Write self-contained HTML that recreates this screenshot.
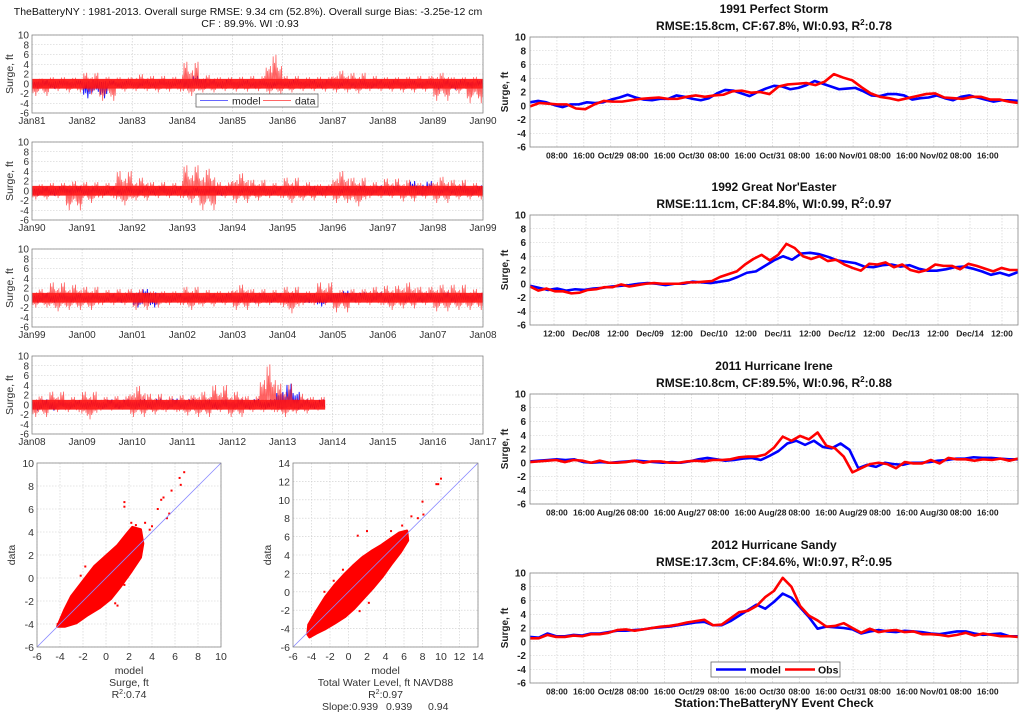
<!DOCTYPE html>
<html><head><meta charset="utf-8">
<style>
html,body{margin:0;padding:0;background:#fff;}
svg{display:block;font-family:"Liberation Sans",Arial,sans-serif;}
</style></head>
<body>
<svg id="fig" width="1024" height="716" viewBox="0 0 1024 716" xmlns="http://www.w3.org/2000/svg">
<rect width="1024" height="716" fill="#fff"/>
<text x="248" y="15" font-size="10.5" text-anchor="middle" fill="#111">TheBatteryNY : 1981-2013. Overall surge RMSE: 9.34 cm (52.8%). Overall surge Bias: -3.25e-12 cm</text>
<text x="250" y="27" font-size="10.5" text-anchor="middle" fill="#111">CF : 89.9%. WI :0.93</text>
<g id="layer"></g>
</svg>
<script>
// ---------- Left long-term time series (binned hi/lo envelopes, ft) ----------
const yearLabels1 = ["Jan81","Jan82","Jan83","Jan84","Jan85","Jan86","Jan87","Jan88","Jan89","Jan90"];
const yearLabels2 = ["Jan90","Jan91","Jan92","Jan93","Jan94","Jan95","Jan96","Jan97","Jan98","Jan99"];
const yearLabels3 = ["Jan99","Jan00","Jan01","Jan02","Jan03","Jan04","Jan05","Jan06","Jan07","Jan08"];
const yearLabels4 = ["Jan08","Jan09","Jan10","Jan11","Jan12","Jan13","Jan14","Jan15","Jan16","Jan17"];
const dataHi1 = [1.2,1.5,1.4,2.5,1.6,1.5,2.2,1.8,1.6,5.0,2.0,1.5,1.6,1.8,6.6,1.8,1.5,1.6,3.0,2.5,1.8,1.5,1.6,1.8,2.5,1.5,1.6];
const dataLo1 = [-2.5,-1.5,-1.8,-2.2,-3.5,-1.6,-1.5,-1.8,-1.6,-2.5,-1.8,-1.5,-1.6,-1.5,-2.2,-1.8,-1.5,-1.6,-1.8,-2.0,-1.5,-1.6,-1.8,-1.6,-3.5,-2.0,-4.0];
const modelHi1 = [0.8,0.7,0.9,0.7,0.8,0.8,1.8,0.9,0.8,0.7,0.9,0.8,0.9,0.8,0.8,0.7,0.9,0.8];
const modelLo1 = [-1.0,-0.7,-3.0,-0.8,-0.8,-0.7,-0.9,-0.8,-0.8,-0.8,-0.7,-0.9,-0.8,-0.9,-0.8,-0.8,-1.2,-0.9];
const dataHi2 = [1.5,1.8,2.2,2.0,1.8,4.5,3.0,2.0,1.8,5.8,5.0,2.0,4.0,2.5,1.8,3.0,2.0,1.5,4.5,3.0,2.0,2.8,2.5,1.8,3.2,2.5,1.8];
const dataLo2 = [-1.8,-1.5,-4.0,-2.5,-1.5,-3.0,-2.0,-1.5,-1.5,-2.5,-4.0,-1.5,-2.5,-2.0,-1.5,-2.5,-2.0,-1.5,-2.5,-3.2,-1.5,-1.5,-2.2,-1.6,-2.5,-1.8,-1.8];
const modelHi2 = [0.9,1.0,0.8,0.9,0.9,1.0,0.8,0.9,0.8,0.9,0.9,1.0,1.0,1.2,1.2,2.2,1.0,1.2];
const modelLo2 = [-1.0,-0.8,-0.9,-0.9,-0.8,-0.9,-0.9,-1.0,-0.8,-0.9,-0.8,-0.9,-0.8,-0.8,-0.8,-1.0,-0.8,-0.9];
const dataHi3 = [2.0,3.5,3.0,2.5,1.8,2.0,2.0,1.5,1.5,2.5,1.8,1.5,3.0,2.0,1.8,2.5,1.5,3.5,1.8,2.0,2.5,2.8,3.5,2.5,3.0,3.0,2.0];
const dataLo3 = [-2.0,-2.8,-2.5,-2.5,-1.5,-1.5,-2.5,-2.0,-1.5,-2.5,-1.8,-1.5,-2.5,-1.8,-1.5,-3.2,-1.5,-1.5,-3.0,-1.5,-1.5,-2.5,-2.2,-1.5,-2.8,-2.5,-2.5];
const modelHi3 = [1.0,0.9,0.8,0.9,2.0,0.9,0.8,0.9,1.0,1.0,1.0,0.9,1.6,1.2,1.0,1.0,1.2,1.0];
const modelLo3 = [-1.0,-0.9,-0.8,-1.0,-2.0,-0.9,-0.8,-0.9,-1.0,-1.0,-1.0,-1.8,-0.9,-0.8,-1.0,-0.9,-1.0,-0.9];
const dataHi4 = [2.0,3.0,1.8,3.0,1.8,2.0,4.3,2.5,2.0,2.2,3.0,4.5,3.0,2.0,9.2,4.8,2.5,1.8];
const dataLo4 = [-2.5,-1.5,-1.5,-3.0,-1.2,-1.0,-2.5,-2.0,-1.5,-2.2,-2.5,-1.5,-2.5,-1.5,-1.5,-2.5,-1.8,-1.2];
const modelHi4 = [1.2,1.0,1.0,1.2,1.3,1.4,1.3,1.2,1.2,1.3,4.8,1.2];
const modelLo4 = [-1.2,-0.8,-0.8,-0.8,-0.8,-0.8,-0.8,-0.9,-0.9,-0.8,-1.0,-0.8];
const yTicksLeft = [10,8,6,4,2,0,-2,-4,-6];

// ---------- Scatter plots ----------
const surgeCloudModel = [-4.2,-3.6,-3,-2,-1,0,1,1.8,2.3,3.0,3.2,3.0,2.2,1.2,0.4,-0.6,-1.6,-2.6,-3.6];
const surgeCloudData  = [-4.2,-2.8,-1.6,-0.3,1.0,1.9,2.8,3.8,4.4,4.2,3.0,1.8,0.6,-0.8,-1.8,-2.6,-3.2,-3.9,-4.2];
const surgeOutModel = [1.6,1.6,6.8,6.4,6.5,5.7,5.0,4.8,4.5,5.5,4.0,3.8,5.3,1.0,-3.6,-4.2,-2.6,-3.0,-1.8,-2.2,2.2,2.6,3.4,-3.2,0.8,1.6];
const surgeOutData  = [6.6,6.2,9.2,8.7,8.1,7.6,7.0,6.8,6.0,5.6,4.5,4.2,5.2,-2.4,-3.2,-4.0,-3.9,-3.6,1.0,0.2,4.8,4.6,4.8,-3.4,-2.2,-0.6];
const twlCloudModel = [-4.4,-4.3,-3.5,-2.5,-1.5,-0.5,0.5,1.5,2.5,3.5,4.5,5.5,6.3,6.4,5.6,4.6,3.6,2.6,1.6,0.6,-0.4,-1.5,-2.5,-3.5,-4.2];
const twlCloudData  = [-4.6,-3.6,-2.2,-0.6,0.7,1.8,2.8,3.7,4.4,5.0,5.7,6.4,6.6,5.6,4.3,3.0,1.6,0.4,-0.7,-1.8,-2.7,-3.4,-4.0,-4.5,-4.9];
const twlOutModel = [10,9.5,9.7,8,8.1,7.5,6.8,1,2,2.2,1.2,-2.6,-1.6,5.8,4.6,-0.6];
const twlOutData  = [12.3,11.7,11.7,9.8,8.4,8,8.2,6.1,6.6,-1.2,-2.1,0.0,1.2,7.2,6.6,2.4];
const surgeTicks = [-6,-4,-2,0,2,4,6,8,10];
const twlTicks = [-6,-4,-2,0,2,4,6,8,10,12,14];

// ---------- Right event panels (ft, evenly spaced over window) ----------
const evLabelsA = ["08:00","16:00","Oct/29","08:00","16:00","Oct/30","08:00","16:00","Oct/31","08:00","16:00","Nov/01","08:00","16:00","Nov/02","08:00","16:00"];
const evLabelsB = ["12:00","Dec/08","12:00","Dec/09","12:00","Dec/10","12:00","Dec/11","12:00","Dec/12","12:00","Dec/13","12:00","Dec/14","12:00"];
const evLabelsC = ["08:00","16:00","Aug/26","08:00","16:00","Aug/27","08:00","16:00","Aug/28","08:00","16:00","Aug/29","08:00","16:00","Aug/30","08:00","16:00"];
const evLabelsD = ["08:00","16:00","Oct/28","08:00","16:00","Oct/29","08:00","16:00","Oct/30","08:00","16:00","Oct/31","08:00","16:00","Nov/01","08:00","16:00"];
const model1991 = [0.5,0.7,0.5,0.1,-0.2,0.2,0.2,0.5,0.4,0.5,0.9,1.2,1.6,1.2,0.9,0.8,1.0,1.0,1.5,1.3,1.0,0.8,1.1,1.8,2.3,2.2,1.8,1.4,2.0,2.5,2.9,2.8,2.4,2.6,3.0,3.6,3.2,2.8,2.4,2.5,2.6,2.1,1.5,1.4,1.7,1.7,1.5,0.9,1.1,1.2,1.5,1.1,0.8,1.3,1.5,1.2,0.9,0.6,0.8,0.8,0.7];
const obs1991 = [-0.1,0.4,0.3,0.2,0.2,-0.4,-0.5,0.2,0.7,0.6,0.6,0.8,1.0,1.1,1.2,1.0,1.0,1.3,1.5,1.3,1.5,1.6,2.1,2.2,1.9,2.0,1.7,2.8,3.1,3.2,3.3,3.0,3.5,4.6,4.1,3.7,2.7,1.8,1.3,1.1,0.8,1.1,1.4,1.7,1.8,1.2,1.1,1.0,1.3,1.3,0.9,0.9,0.6,0.4];
const model1992 = [-0.3,-0.6,-0.9,-0.7,-1.0,-0.8,-0.9,-0.7,-0.6,-0.4,-0.3,-0.2,0.0,0.1,0.0,-0.2,0.0,0.0,0.3,0.2,0.1,0.3,0.5,1.0,1.6,1.8,2.6,3.4,4.0,3.5,4.4,4.5,4.3,3.9,3.4,3.2,3.0,2.5,2.4,2.7,2.8,2.5,2.7,2.2,1.9,1.9,2.1,2.4,2.5,2.2,1.8,1.3,1.6,1.2,1.7];
const obs1992 = [-0.4,-1.0,-0.7,-1.1,-1.1,-1.4,-1.3,-0.9,-0.8,-0.5,-0.5,-0.1,-0.4,-0.2,0.0,0.1,0.0,0.0,0.0,0.2,0.2,0.3,0.4,1.0,1.4,1.8,2.8,3.6,4.2,3.4,4.2,5.8,5.2,4.0,3.6,4.0,3.3,3.5,2.8,2.3,1.9,2.9,2.8,3.1,2.4,2.8,2.0,1.7,2.0,2.8,2.6,2.6,2.1,2.9,2.6,2.2,1.8,2.3,2.0,2.0];
const model2011 = [0.2,0.3,0.4,0.5,0.4,0.5,0.1,0.0,0.1,0.0,0.1,0.2,0.3,0.2,0.1,0.0,0.1,0.0,0.2,0.5,0.7,0.5,0.3,0.4,0.6,0.7,0.4,1.0,1.7,2.8,3.2,2.6,3.2,2.3,2.1,2.8,1.9,-0.8,-0.3,-0.6,0.0,-0.2,-0.3,0.0,0.0,0.1,0.3,0.4,0.6,0.6,0.8,0.7,0.7,0.6,0.5,0.5];
const obs2011 = [0.1,0.2,0.3,0.4,0.1,0.4,0.3,0.0,0.3,0.0,0.0,0.1,0.3,0.0,0.2,0.2,0.0,0.0,0.2,0.3,0.2,0.4,0.4,0.5,0.8,0.9,0.9,1.2,2.2,3.8,3.2,3.9,3.4,4.4,2.5,2.1,0.9,-1.4,-0.8,-0.2,0.0,-0.2,-0.8,0.1,-0.1,-0.1,0.4,-0.1,0.7,0.5,0.5,0.3,0.5,0.4,0.6,0.3,0.6];
const model2012 = [0.7,0.6,1.2,0.8,0.8,1.0,0.9,1.2,1.2,1.4,1.6,1.6,1.7,1.8,2.0,2.1,2.2,2.4,2.6,2.8,2.9,2.4,2.4,3.0,3.8,4.6,5.4,4.8,5.8,7.0,6.4,5.0,3.6,1.9,2.2,2.1,2.0,1.8,1.2,1.5,1.7,1.5,1.4,1.6,1.5,1.4,1.2,1.1,1.3,1.5,1.5,1.2,1.0,1.1,1.2,0.8,0.8];
const obs2012 = [0.5,0.5,1.0,0.7,0.7,0.9,0.8,1.1,1.1,1.3,1.7,1.8,1.6,1.8,2.0,2.2,2.3,2.5,2.8,3.0,3.2,2.4,2.5,3.4,4.3,4.5,5.2,6.5,7.4,9.3,8.0,5.2,3.8,3.1,2.2,2.3,2.7,2.0,1.3,1.9,1.4,1.6,1.7,1.4,1.5,1.1,1.1,1.0,0.8,1.0,1.3,0.9,1.2,1.0,0.8,0.8,0.7];
const yTicksRight = [10,8,6,4,2,0,-2,-4,-6];

const NS = "http://www.w3.org/2000/svg";
const layer = document.getElementById('layer');
function mk(tag, attrs, parent){ const e=document.createElementNS(NS,tag); for(const k in attrs) e.setAttribute(k,attrs[k]); (parent||layer).appendChild(e); return e; }
function lin(d0,d1,r0,r1){ return v => r0 + (v-d0)/(d1-d0)*(r1-r0); }
// render-only jitter pattern (fraction of bin envelope reached by each sub-stroke)
const JIT = [0.5,0.75,0.4,0.65,0.45,1.0,0.55,0.7,0.35,0.6,0.85,0.45,0.65,0.4,0.9,0.55];

// ----- left panels -----
function leftPanel(top, labels, hi, lo, mhi, mlo, dataYears, modelYears, idx){
  const x0=32,x1=483,bot=top+78;
  const g = mk('g',{});
  
  
  const xs = lin(0,9,x0,x1), ys = lin(-6,10,bot,top);
  yTicksLeft.forEach(t=>{
    mk('line',{x1:x0,x2:x1,y1:ys(t),y2:ys(t),stroke:'#c8c8c8','stroke-width':0.6,'stroke-dasharray':'1.5,1.5'},g);
    const tx = mk('text',{x:29,y:ys(t)+3.5,'font-size':10,'text-anchor':'end',fill:'#333'},g);
    tx.textContent = t;
    
    
  });
  labels.forEach((l,i)=>{
    mk('line',{x1:xs(i),x2:xs(i),y1:top,y2:bot,stroke:'#c8c8c8','stroke-width':0.6,'stroke-dasharray':'1.5,1.5'},g);
    const tx = mk('text',{x:xs(i),y:bot+11,'font-size':10,'text-anchor':'middle',fill:'#333'},g);
    tx.textContent = l;
    
    
  });
  function noisy(h,l,years,color,width,op,name,sub){
    const n=h.length, w=years/n;
    let zz=[], c=0;
    for(let i=0;i<n;i++){
      for(let k=0;k<sub;k++){
        const f=(k+0.5)/sub, j=JIT[(c++)%JIT.length];
        const v = (k%2===0) ? h[i]*j : l[i]*j;
        zz.push(xs((i+f)*w).toFixed(2)+','+ys(v).toFixed(2));
      }
    }
    const pl = mk('polyline',{points:zz.join(' '),fill:'none',stroke:color,'stroke-width':width,'stroke-opacity':op},g);
    
    
  }
  noisy(mhi,mlo,modelYears,'#0000ff',0.9,0.9,'model',24);
  const core = mk('rect',{x:x0,y:ys(1.0),width:xs(dataYears)-x0,height:ys(-1.0)-ys(1.0),fill:'#ff0000','fill-opacity':0.85},g);
  
  
  noisy(hi,lo,dataYears,'#ff2020',0.8,0.7,'data',24);
  mk('rect',{x:x0,y:top,width:x1-x0,height:bot-top,fill:'none',stroke:'#888','stroke-width':0.8},g);
  const yl = mk('text',{x:0,y:0,'font-size':10.5,'text-anchor':'middle',fill:'#333',transform:`translate(13,${(top+bot)/2}) rotate(-90)`},g);
  yl.textContent='Surge, ft';
  
  
}
leftPanel(35, yearLabels1, dataHi1, dataLo1, modelHi1, modelLo1, 9, 9, 1);
leftPanel(142, yearLabels2, dataHi2, dataLo2, modelHi2, modelLo2, 9, 9, 2);
leftPanel(249, yearLabels3, dataHi3, dataLo3, modelHi3, modelLo3, 9, 9, 3);
leftPanel(356, yearLabels4, dataHi4, dataLo4, modelHi4, modelLo4, 5.85, 5.85, 4);
(function(){
  const g = mk('g',{});
  
  
  mk('rect',{x:196,y:94,width:122,height:13,fill:'#fff',stroke:'#666','stroke-width':0.8},g);
  mk('line',{x1:200,x2:228,y1:100.5,y2:100.5,stroke:'#6666ff','stroke-width':1},g);
  const t1=mk('text',{x:232,y:104.5,'font-size':10.5,fill:'#222'},g); t1.textContent='model';
  
  
  mk('line',{x1:263,x2:291,y1:100.5,y2:100.5,stroke:'#ff6666','stroke-width':1},g);
  const t2=mk('text',{x:295,y:104.5,'font-size':10.5,fill:'#222'},g); t2.textContent='data';
  
  
})();

// ----- scatter panels -----
function scatter(x0,x1,ticks,cm,cd,om,od,lines,name){
  const top=463,bot=647;
  const g = mk('g',{});
  
  
  const d0=ticks[0],d1=ticks[ticks.length-1];
  const xs=lin(d0,d1,x0,x1), ys=lin(d0,d1,bot,top);
  ticks.forEach(t=>{
    mk('line',{x1:xs(t),x2:xs(t),y1:top,y2:bot,stroke:'#ccc','stroke-width':0.6,'stroke-dasharray':'1.5,1.5'},g);
    mk('line',{x1:x0,x2:x1,y1:ys(t),y2:ys(t),stroke:'#ccc','stroke-width':0.6,'stroke-dasharray':'1.5,1.5'},g);
    const a=mk('text',{x:xs(t),y:bot+13,'font-size':10.5,'text-anchor':'middle',fill:'#333'},g); a.textContent=t;
    
    
    const b=mk('text',{x:x0-3,y:ys(t)+4,'font-size':10.5,'text-anchor':'end',fill:'#333'},g); b.textContent=t;
    
    
  });
  const cloud = mk('polygon',{points:cm.map((v,i)=>xs(v)+','+ys(cd[i])).join(' '),fill:'#ff0000',stroke:'#ff0000','stroke-width':3,'stroke-linejoin':'round'},g);
  
  
  om.forEach((v,i)=>{
    const c=mk('rect',{x:xs(v)-1,y:ys(od[i])-1,width:2,height:2,fill:'#ff0000'},g);
    
    
  });
  const one = mk('line',{x1:xs(d0),y1:ys(d0),x2:xs(d1),y2:ys(d1),stroke:'#8888ff','stroke-width':0.8},g);
  
  
  mk('rect',{x:x0,y:top,width:x1-x0,height:bot-top,fill:'none',stroke:'#888','stroke-width':0.8},g);
  const yl=mk('text',{x:0,y:0,'font-size':10.5,'text-anchor':'middle',fill:'#333',transform:`translate(${x0-22},${(top+bot)/2}) rotate(-90)`},g); yl.textContent='data';
  
  
  lines.forEach((l,i)=>{
    const t=mk('text',{x:(x0+x1)/2,y:674+i*12,'font-size':10.5,'text-anchor':'middle',fill:'#333'},g);
    t.innerHTML=l;
    
    
  });
}
scatter(37,221,surgeTicks,surgeCloudModel,surgeCloudData,surgeOutModel,surgeOutData,
  ['model','Surge, ft','R<tspan dy="-4" font-size="7">2</tspan><tspan dy="4">:0.74</tspan>'],'surge-scatter');
scatter(293,478,twlTicks,twlCloudModel,twlCloudData,twlOutModel,twlOutData,
  ['model','Total Water Level, ft NAVD88','R<tspan dy="-4" font-size="7">2</tspan><tspan dy="4">:0.97</tspan>'],'twl-scatter');
(function(){
  const g=mk('g',{});
  
  
  const a=mk('text',{x:322,y:710,'font-size':10.5,fill:'#333'},g); a.textContent='Slope:0.939';
  const b=mk('text',{x:386,y:710,'font-size':10.5,fill:'#333'},g); b.textContent='0.939';
  const c=mk('text',{x:428,y:710,'font-size':10.5,fill:'#333'},g); c.textContent='0.94';
})();

// ----- right event panels -----
function eventPanel(top, title, stats, labels, span, firstTick, step, model, obs, idx){
  const x0=530,x1=1018,bot=top+110;
  const g=mk('g',{});
  
  
  const xs=lin(0,span,x0,x1), ys=lin(-6,10,bot,top);
  const t1=mk('text',{x:774,y:top-24,'font-size':12,'font-weight':'bold','text-anchor':'middle',fill:'#111'},g); t1.textContent=title;
  
  
  const t2=mk('text',{x:774,y:top-7,'font-size':12,'font-weight':'bold','text-anchor':'middle',fill:'#111'},g); t2.innerHTML=stats;
  
  
  yTicksRight.forEach(t=>{
    mk('line',{x1:x0,x2:x1,y1:ys(t),y2:ys(t),stroke:'#ccc','stroke-width':0.6,'stroke-dasharray':'1.5,1.5'},g);
    const a=mk('text',{x:526,y:ys(t)+3.5,'font-size':10,'font-weight':'bold','text-anchor':'end',fill:'#222'},g); a.textContent=t;
    
    
  });
  labels.forEach((l,i)=>{
    const x=xs(firstTick+i*step);
    mk('line',{x1:x,x2:x,y1:top,y2:bot,stroke:'#ccc','stroke-width':0.6,'stroke-dasharray':'1.5,1.5'},g);
    const a=mk('text',{x:x,y:bot+11.5,'font-size':8.5,'font-weight':'bold','text-anchor':'middle',fill:'#222'},g); a.textContent=l;
    
    
  });
  function line(arr,color,name){
    const pl=mk('polyline',{points:arr.map((v,i)=>xs(i/(arr.length-1)*span)+','+ys(v)).join(' '),fill:'none',stroke:color,'stroke-width':2.6,'stroke-linejoin':'round'},g);
    
    
  }
  line(model,'#0000ff','model-line');
  line(obs,'#ff0000','obs-line');
  mk('rect',{x:x0,y:top,width:x1-x0,height:bot-top,fill:'none',stroke:'#888','stroke-width':0.8},g);
  const yl=mk('text',{x:0,y:0,'font-size':10,'font-weight':'bold','text-anchor':'middle',fill:'#222',transform:`translate(508,${(top+bot)/2}) rotate(-90)`},g); yl.textContent='Surge, ft';
  
  
}
const R2 = (r,c,w,q)=>`RMSE:${r}cm, CF:${c}%, WI:${w}, R<tspan dy="-5" font-size="8">2</tspan><tspan dy="5">:${q}</tspan>`;
eventPanel(37,'1991 Perfect Storm',R2('15.8','67.8','0.93','0.78'),evLabelsA,145,8,8,model1991,obs1991,1);
eventPanel(215,"1992 Great Nor'Easter",R2('11.1','84.8','0.99','0.97'),evLabelsB,183,9,12,model1992,obs1992,2);
eventPanel(394,'2011 Hurricane Irene',R2('10.8','89.5','0.96','0.88'),evLabelsC,145,8,8,model2011,obs2011,3);
eventPanel(573,'2012 Hurricane Sandy',R2('17.3','84.6','0.97','0.95'),evLabelsD,145,8,8,model2012,obs2012,4);
(function(){
  const g=mk('g',{});
  
  
  mk('rect',{x:711,y:662,width:129,height:15,fill:'#fff',stroke:'#666','stroke-width':0.8},g);
  mk('line',{x1:716,x2:746,y1:669.5,y2:669.5,stroke:'#0000ff','stroke-width':2.6},g);
  const a=mk('text',{x:750,y:673.5,'font-size':10.5,'font-weight':'bold',fill:'#111'},g); a.textContent='model';
  
  
  mk('line',{x1:785,x2:815,y1:669.5,y2:669.5,stroke:'#ff0000','stroke-width':2.6},g);
  const b=mk('text',{x:818,y:673.5,'font-size':10.5,'font-weight':'bold',fill:'#111'},g); b.textContent='Obs';
  
  
  const s=mk('text',{x:774,y:707,'font-size':12,'font-weight':'bold','text-anchor':'middle',fill:'#111'},g); s.textContent='Station:TheBatteryNY Event Check';
  
  
})();
</script>
</body></html>
